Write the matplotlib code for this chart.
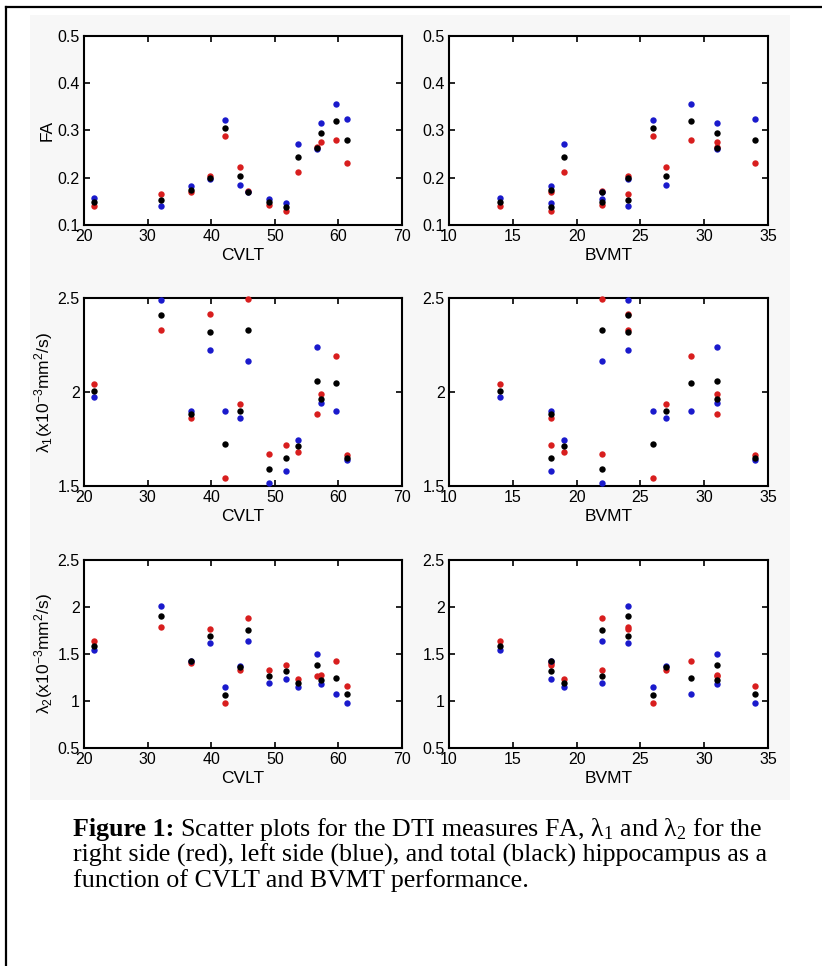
import numpy as np
import matplotlib
matplotlib.use("Agg")
import matplotlib.pyplot as plt
from matplotlib.lines import Line2D
from matplotlib.patches import Rectangle
from matplotlib.ticker import FormatStrFormatter

plt.rcParams['font.family'] = ['Liberation Sans Narrow', 'Liberation Sans', 'DejaVu Sans']

# one entry per subject
cvlt = [21.5, 32.1, 36.9, 39.8, 42.1, 44.6, 45.8, 49.1, 51.7, 53.6, 56.6, 57.2, 59.6, 61.4]
bvmt = [14, 24, 18, 24, 26, 27, 22, 22, 18, 19, 31, 31, 29, 34]

fa_right = [.141, .165, .169, .204, .289, .222, .171, .142, .130, .213, .264, .275, .280, .232]
fa_left = [.158, .140, .182, .197, .321, .185, .169, .155, .147, .272, .260, .315, .356, .325]
fa_total = [.149, .152, .175, .199, .305, .204, .170, .149, .139, .243, .262, .294, .319, .279]

l1_right = [2.045, 2.329, 1.861, 2.418, 1.544, 1.935, 2.496, 1.669, 1.720, 1.683, 1.882, 1.988, 2.193, 1.663]
l1_left = [1.972, 2.491, 1.901, 2.225, 1.901, 1.861, 2.166, 1.514, 1.582, 1.743, 2.239, 1.944, 1.898, 1.637]
l1_total = [2.008, 2.409, 1.882, 2.321, 1.722, 1.898, 2.331, 1.589, 1.651, 1.715, 2.061, 1.965, 2.047, 1.651]

l2_right = [1.633, 1.785, 1.399, 1.767, 0.974, 1.335, 1.884, 1.332, 1.388, 1.236, 1.268, 1.272, 1.427, 1.162]
l2_left = [1.544, 2.008, 1.430, 1.619, 1.151, 1.371, 1.633, 1.187, 1.236, 1.148, 1.498, 1.176, 1.070, 0.981]
l2_total = [1.590, 1.902, 1.425, 1.693, 1.063, 1.357, 1.757, 1.261, 1.314, 1.190, 1.385, 1.226, 1.250, 1.073]

rows = [
    ('FA', (fa_right, fa_left, fa_total), (0.1, 0.5), [0.1, 0.2, 0.3, 0.4, 0.5]),
    (r'$\mathregular{\lambda_1(x10^{-3}mm^2/s)}$', (l1_right, l1_left, l1_total), (1.5, 2.5), [1.5, 2, 2.5]),
    (r'$\mathregular{\lambda_2(x10^{-3}mm^2/s)}$', (l2_right, l2_left, l2_total), (0.5, 2.5), [0.5, 1, 1.5, 2, 2.5]),
]
cols = [('CVLT', cvlt, (20, 70), [20, 30, 40, 50, 60, 70]),
        ('BVMT', bvmt, (10, 35), [10, 15, 20, 25, 30, 35])]
colors = ['#d81e1e', '#1a1acc', 'black']

W, H = 822, 966
fig = plt.figure(figsize=(W / 100, H / 100), dpi=100)

# scanned figure background and page frame
fig.patches.append(Rectangle((30 / W, 1 - 800 / H), 760 / W, 785 / H, transform=fig.transFigure,
                             facecolor='#f7f7f7', edgecolor='none', zorder=-10))
fig.lines.append(Line2D([6 / W, 6 / W], [0, 1 - 7 / H], transform=fig.transFigure, color='black', lw=1.6))
fig.lines.append(Line2D([6 / W, 1], [1 - 7 / H, 1 - 7 / H], transform=fig.transFigure, color='black', lw=1.6))

row_px = [(35.7, 225), (298.3, 486), (560, 748)]
col_px = [(84, 402), (449, 768)]

for r, (ylab, series, ylim, yticks) in enumerate(rows):
    for c, (xlab, xs, xlim, xticks) in enumerate(cols):
        top, bot = row_px[r]
        left, right = col_px[c]
        ax = fig.add_axes([left / W, 1 - bot / H, (right - left) / W, (bot - top) / H])
        for ys, col in zip(series, colors):
            ax.plot(xs, ys, 'o', color=col, ms=4.6, mew=0, clip_on=False, zorder=3)
        ax.set_xlim(*xlim)
        ax.set_ylim(*ylim)
        ax.set_xticks(xticks)
        ax.set_yticks(yticks)
        ax.yaxis.set_major_formatter(FormatStrFormatter('%g'))
        ax.tick_params(direction='in', top=True, right=True, length=4, width=1.2,
                       labelsize=11.5, pad=3)
        for s in ax.spines.values():
            s.set_linewidth(1.5)
        ax.set_xlabel(xlab, fontsize=12.5, labelpad=3)
        if c == 0:
            ax.set_ylabel(ylab, fontsize=12.5, labelpad=2)

# caption
cap_kw = dict(fontsize=18.7, family='Liberation Serif', va='baseline', ha='left')
x0 = 73 / W
bold = fig.text(x0, 1 - 836 / H, 'Figure 1:', fontweight='bold', **cap_kw)
renderer = fig.canvas.get_renderer()
bw = bold.get_window_extent(renderer).width / W
fig.text(x0 + bw, 1 - 836 / H,
         r' Scatter plots for the DTI measures FA, $\mathregular{\lambda_1}$ and $\mathregular{\lambda_2}$ for the',
         **cap_kw)
fig.text(x0, 1 - 862 / H,
         'right side (red), left side (blue), and total (black) hippocampus as a', **cap_kw)
fig.text(x0, 1 - 887.5 / H, 'function of CVLT and BVMT performance.', **cap_kw)

fig.savefig('out.png', dpi=100)
